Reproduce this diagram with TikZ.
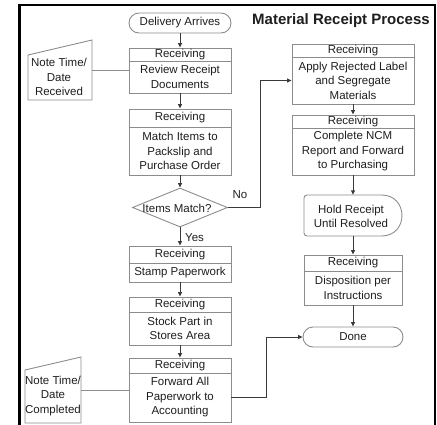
\documentclass[tikz,border=0pt]{standalone}
\usepackage{fontspec}
\setmainfont{Liberation Sans}
\usetikzlibrary{arrows.meta,shapes.geometric}

\definecolor{outline}{HTML}{8C8C8C}
\definecolor{wire}{HTML}{3A3A3A}
\definecolor{ink}{HTML}{1E1E1E}

\tikzset{
  txt/.style={inner sep=0pt, text=ink, align=center,
    font=\fontsize{11.5}{14.5}\selectfont},
  part/.style={txt, draw=outline, line width=0.9pt, rectangle},
  term/.style={part, rounded corners=10pt, minimum height=20pt},
  ghost/.style={rectangle, inner sep=0pt},
  decision/.style={diamond, draw=outline, line width=0.9pt, inner sep=0pt,
    minimum width=95pt, minimum height=39pt},
  flow/.style={draw=wire, line width=0.9pt,
    -{Triangle[length=4.5pt,width=4pt]}},
  tie/.style={draw=outline, line width=0.9pt},
  shapeline/.style={draw=outline, line width=0.9pt},
  title/.style={inner sep=0pt, text=ink,
    font=\fontsize{15}{18}\selectfont\bfseries},
}

% Two-part process box: a "Receiving" header band above a body with the step.
% #1 name, #2 centre x, #3 top, #4 header bottom, #5 bottom, #6 width, #7 body
\newcommand\recbox[7]{%
  \node[part, minimum width=#6pt, minimum height={(#4-#3)*1pt}]
    (#1-h) at (#2,{(#3+#4)/2}) {Receiving};
  \node[part, minimum width=#6pt, minimum height={(#5-#4)*1pt}]
    (#1) at (#2,{(#4+#5)/2}) {#7};%
}

\begin{document}
\begin{tikzpicture}[x=1pt,y=-1pt]
\useasboundingbox (0,0) rectangle (437,424);

% frame
\draw[line width=2.3pt] (19.5,430) -- (19.5,5.3) -- (435,5.3) -- (435,430);

% title
\node[title, anchor=west] (ttl) at (252,21) {Material Receipt Process};

% ---- main (left) column
\node[term, minimum width=102pt] (start) at (180,23) {Delivery Arrives};
\recbox{review}{180}{48}{61}{93}{102}{Review Receipt\\Documents}
\recbox{matchit}{180}{109}{127}{175}{102}{Match Items to\\Packslip and\\Purchase Order}
\node[decision] (match) at (180,207.5) {};
\node[txt] (matchlbl) at (177,208) {Items Match?};
\recbox{stamp}{180}{246}{263}{282}{102}{Stamp Paperwork}
\recbox{stock}{180}{297}{312}{345}{102}{Stock Part in\\Stores Area}
\recbox{fwd}{180}{358}{373}{422}{102}{Forward All\\Paperwork to\\Accounting}

% ---- reject (right) column
\recbox{rej}{353}{44}{57}{104}{122}{Apply Rejected Label\\and Segregate\\Materials}
\recbox{ncm}{353}{115}{128}{175}{122}{Complete NCM\\Report and Forward\\to Purchasing}
\node[ghost, minimum width=98pt, minimum height=41pt] (hold) at (353,215.5) {};
\draw[shapeline] (381.5,195) [rounded corners=3pt] -- (304,195) -- (304,236)
  [sharp corners] -- (381.5,236) .. controls (408.8,236) and (408.8,195) .. (381.5,195);
\node[txt] (holdlbl) at (351,216.5) {Hold Receipt\\Until Resolved};
\recbox{disp}{353}{255}{271}{305}{98}{Disposition per\\Instructions}
\node[term, minimum width=100pt] (done) at (353,337) {Done};

% ---- manual-input notes
\node[ghost, minimum width=64pt, minimum height=60pt] (noteA) at (60,70) {};
\draw[shapeline] (28,55) -- (92,40) -- (92,100) -- (28,100) -- cycle;
\node[txt] (noteAlbl) at (59,77) {Note Time/\\Date\\Received};

\node[ghost, minimum width=56pt, minimum height=66pt] (noteB) at (53,390) {};
\draw[shapeline] (25,370) -- (81,357) -- (81,423) -- (25,423) -- cycle;
\node[txt] (noteBlbl) at (53,396) {Note Time/\\Date\\Completed};

% ---- connectors
\draw[flow] (start) -- (review-h);
\draw[flow] (review) -- (matchit-h);
\draw[flow] (matchit) -- (match);
\draw[flow] (match) -- (stamp-h);
\node[txt, anchor=west] (yes) at (185,238) {Yes};
\draw[flow] (stamp) -- (stock-h);
\draw[flow] (stock) -- (fwd-h);

\draw[flow] (match.east) -- ++(32.5,0) |- (rej.west);
\node[txt] (no) at (240,195) {No};
\draw[flow] (rej) -- (ncm-h);
\draw[flow] (ncm) -- (hold);
\draw[flow] (hold) -- (disp-h);
\draw[flow] (disp) -- (done);
\draw[flow] (fwd.east) -- ++(35,0) |- (done.west);

\draw[tie] (noteA.east) -- (review-h.south west |- noteA.east);
\draw[tie] (noteB.east) -- (fwd-h.south west |- noteB.east);
\end{tikzpicture}
\end{document}
